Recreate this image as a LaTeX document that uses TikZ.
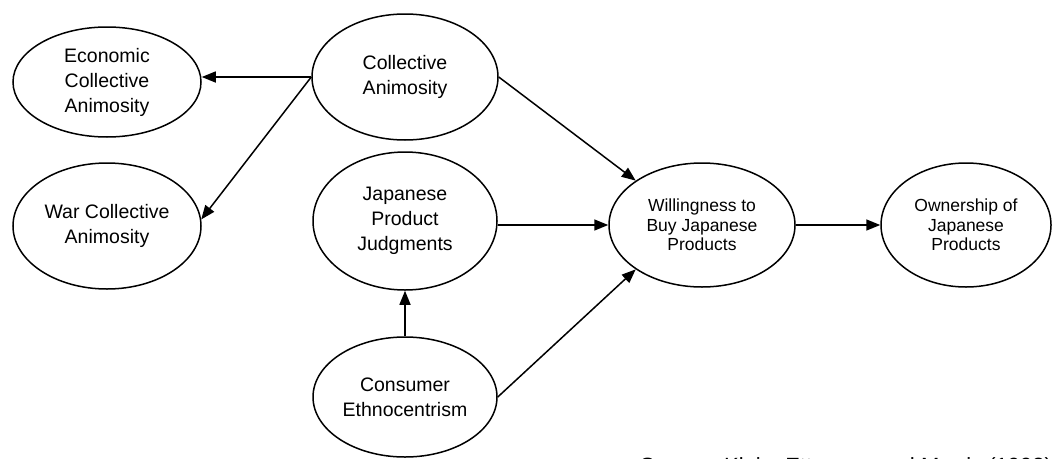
\documentclass[tikz,border=0pt]{standalone}
\usepackage{fontspec}
\setmainfont{Liberation Sans}
\usetikzlibrary{shapes.geometric,arrows.meta}
\begin{document}
\begin{tikzpicture}[x=1pt,y=-1pt,
  construct/.style={draw, ellipse, line width=1.5pt, inner sep=0pt, align=center,
    font=\fontsize{19.5}{25}\selectfont},
  smallconstruct/.style={construct, font=\fontsize{17.5}{19.5}\selectfont},
  path/.style={line width=1.5pt, -{Triangle[length=14pt,width=11pt]}}]
\useasboundingbox (0,0) rectangle (1056,458);
\clip (0,0) rectangle (1056,458);

% latent constructs
\node[construct, minimum width=188pt, minimum height=110pt] (eca) at (107,82)
  {Economic\\Collective\\Animosity};
\node[construct, minimum width=188pt, minimum height=126pt] (wca) at (107,226)
  {War Collective\\Animosity};
\node[construct, minimum width=186pt, minimum height=126pt] (ca) at (405,77)
  {Collective\\Animosity};
\node[construct, minimum width=184pt, minimum height=138pt] (jpj) at (405,221)
  {Japanese\\Product\\Judgments};
\node[construct, minimum width=184pt, minimum height=120pt] (ce) at (405,397)
  {Consumer\\Ethnocentrism};
\node[smallconstruct, minimum width=186pt, minimum height=124pt] (wtb) at (702,225)
  {Willingness to\\Buy Japanese\\Products};
\node[smallconstruct, minimum width=170pt, minimum height=124pt] (own) at (966,225)
  {Ownership of\\Japanese\\Products};

% structural paths
\draw[path] (ca.west) -- (ca.west -| eca.east);
\draw[path] (ca.west) -- (wca.4);
\draw[path] (ca.east) -- (wtb.north west);
\draw[path] (jpj.east |- wtb.west) -- (wtb.west);
\draw[path] (ce.east) -- (wtb.south west);
\draw[path] (ce.north) -- (jpj.south);
\draw[path] (wtb.east) -- (own.west);

% source line, running off the lower edge
\node[anchor=base west, inner sep=0pt, font=\fontsize{22}{26}\selectfont] (src) at (640,473)
  {Source: Klein, Ettenson and Morris (1998)};
\end{tikzpicture}
\end{document}
